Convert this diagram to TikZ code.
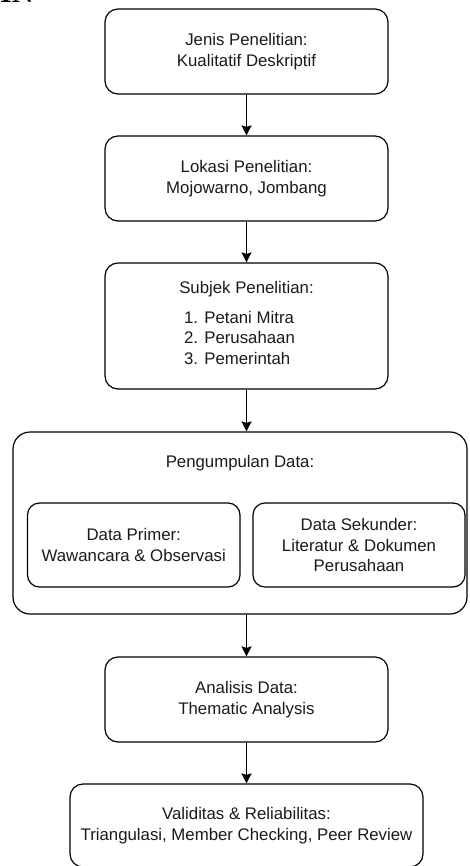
\documentclass[tikz,border=0pt]{standalone}
\usepackage{fontspec}
\setmainfont{Liberation Sans}
\newfontfamily\headfont{Liberation Serif}
\usetikzlibrary{arrows.meta}
\definecolor{txt}{HTML}{1A1A1A}
\tikzset{
  flowtext/.style={align=center, text=txt, font=\fontsize{16.8}{20.5}\selectfont, inner sep=0pt},
  flowbox/.style={flowtext, draw=black, line width=1.2pt, rounded corners=13pt},
  groupbox/.style={draw=black, line width=1.2pt, rounded corners=17pt, inner sep=0pt},
  flowarrow/.style={draw=black, line width=1.2pt, -{Stealth[length=10pt,width=10pt,inset=1.5pt]}},
  headtext/.style={font=\headfont\bfseries\fontsize{30}{30}\selectfont, text=black, inner sep=0pt, anchor=base west}
}
\begin{document}
\begin{tikzpicture}[x=1pt,y=-1pt]
\useasboundingbox (0,0) rectangle (469,866);
\begin{scope}
\clip (0,0) rectangle (469,866);
\node[headtext] (head) at (0,3) {IN};
\end{scope}

\node[flowbox, minimum width=283pt, minimum height=85pt] (b1) at (246.5,51.5)
  {Jenis Penelitian:\\Kualitatif Deskriptif};
\node[flowbox, minimum width=283pt, minimum height=85pt] (b2) at (246.5,178.5)
  {Lokasi Penelitian:\\Mojowarno, Jombang};
\node[flowbox, minimum width=283pt, minimum height=126pt] (b3) at (246.5,326)
  {Subjek Penelitian:\\[11pt]\begin{tabular}{@{}l@{}}1. Petani Mitra\\2. Perusahaan\\3. Pemerintah\end{tabular}\hspace*{14pt}};

\node[groupbox, minimum width=454pt, minimum height=182pt] (big) at (240,523) {};
\node[flowtext] (bigtitle) at (240,463) {Pengumpulan Data:};
\node[flowbox, minimum width=212.5pt, minimum height=84pt, rounded corners=12pt] (dp) at (133.75,545)
  {Data Primer:\\Wawancara \& Observasi};
\node[flowbox, minimum width=212pt, minimum height=84pt, rounded corners=12pt] (ds) at (359,545)
  {Data Sekunder:\\Literatur \& Dokumen\\Perusahaan};

\node[flowbox, minimum width=283pt, minimum height=85pt] (ana) at (246.5,699.5)
  {Analisis Data:\\Thematic Analysis};
\node[flowbox, minimum width=353pt, minimum height=83pt] (val) at (246.5,825.5)
  {Validitas \& Reliabilitas:\\Triangulasi, Member Checking, Peer Review};

\draw[flowarrow] (b1.south) -- (b2.north);
\draw[flowarrow] (b2.south) -- (b3.north);
\draw[flowarrow] (b3.south) -- (b3.south |- big.north);
\draw[flowarrow] (ana.north |- big.south) -- (ana.north);
\draw[flowarrow] (ana.south) -- (val.north);
\end{tikzpicture}
\end{document}
